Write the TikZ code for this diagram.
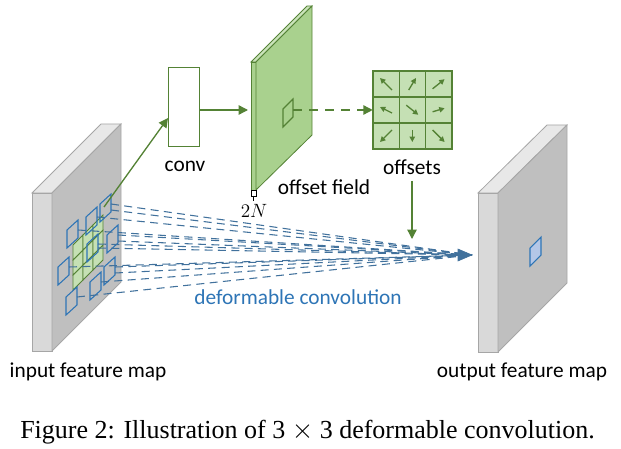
\documentclass[tikz,border=0pt]{standalone}
\usepackage{fontspec}
\setmainfont{Carlito}
\newfontfamily\capfont{Liberation Serif}
\usetikzlibrary{arrows.meta,calc}
\definecolor{gline}{HTML}{548235}
\definecolor{gfill}{HTML}{A9D18E}
\definecolor{gcell}{HTML}{C5E0B4}
\definecolor{bline}{HTML}{2E75B6}
\definecolor{bdash}{HTML}{41719C}
\definecolor{bfill}{HTML}{B4C7E7}
\definecolor{gfront}{HTML}{D9D9D9}
\definecolor{gmain}{HTML}{BFBFBF}
\definecolor{gtop}{HTML}{E8E8E8}
\definecolor{gedge}{HTML}{A6A6A6}
\tikzset{
  lbl/.style={font=\fontsize{16}{18}\selectfont, inner sep=0pt},
  face/.style={draw=gedge, line width=0.6pt},
  bsq/.style={draw=bline, line width=0.8pt},
  gar/.style={draw=gline, line width=1pt, -{Triangle[length=7pt,width=7pt]}},
  dl/.style={draw=bdash, line width=0.8pt, dash pattern=on 6pt off 4pt},
}
\begin{document}
\begin{tikzpicture}[x=0.75pt,y=-0.75pt]
\useasboundingbox (0,0) rectangle (621,449);
% input feature map
\fill[gtop,face] (32,193) -- (101,124) -- (121,124) -- (52,193) -- cycle;
\fill[gfront,face] (32,193) rectangle (52,351);
\fill[gmain,face] (52,193) -- (121,124) -- (121,282) -- (52,351) -- cycle;
% green grid
\foreach \i in {0,1,2}{\foreach \j in {0,1,2}{
  \filldraw[fill=gcell,draw=gline,line width=0.6pt]
   ($(73,290)+(\i*10,-\i*10)+(0,-\j*15)$) -- ++(10,-10) -- ++(0,-15) -- ++(-10,10) -- cycle;}}
% blue squares
\foreach \n/\x/\y in {a/100/222,b/86/235,c/67/248,d/107/253,e/87/262,f/58/285,g/104/285,h/90/300,k/66/315}{
  \draw[bsq] (\x,\y) -- ++(11,-10) -- ++(0,-18) -- ++(-11,10) -- cycle;
  \coordinate (s\n) at ($(\x,\y)+(11,-18)$);
}
\coordinate (tip) at (472,255);
\foreach \n in {a,b,c,d,e,f,g,h,k}{\draw[dl] (s\n) -- (tip);}
\foreach \n/\o in {a/6,d/6,g/6,e/4}{\draw[dl] ($(s\n)+(0,\o)$) -- (tip);}
\draw[bdash,fill=bdash] (tip) -- ++(-14,-6) -- ++(0,12) -- cycle;
\node[lbl, text=bline] (defc) at (298,297) {deformable convolution};
% conv
\node[draw=gline, line width=1pt, minimum width=23pt, minimum height=59pt, inner sep=0pt] (conv) at (184,107) {};
\node[lbl] (convl) at (185,166) {conv};
\coordinate (gsrc) at (104,207);
\draw[gar] (gsrc) -- (conv.west |- 0,118);
% offset field
\fill[gfill!60!white, draw=gline, line width=0.6pt] (251,62) -- (307,6) -- (312,6) -- (256,62) -- cycle;
\fill[gfill, draw=gline, line width=0.6pt] (251,62) rectangle (256,190);
\fill[gfill, draw=gline, line width=0.6pt] (256,62) -- (312,6) -- (312,135) -- (256,190) -- cycle;
\draw[draw=gline, line width=0.8pt] (283,127) -- ++(10,-10) -- ++(0,-18) -- ++(-10,10) -- cycle;
\coordinate (fsq) at (293,110);
\draw[gar] (conv.east |- 0,110) -- (248,110);
\draw[draw=black, fill=white, line width=0.5pt] (251,190) rectangle (256,196);
\draw[black, line width=1pt] (253.5,196) -- (253.5,201);
\node[font=\fontsize{15}{17}\selectfont, inner sep=0pt] (twoN) at (254,211) {$2N$};
\node[lbl] (ofl) at (324,187) {offset field};
% offsets grid
\foreach \i in {0,1,2}{\foreach \j in {0,1,2}{
  \filldraw[fill=gcell,draw=gline,line width=1pt] (373+\i*26.3,71+\j*26) rectangle ++(26.3,26);}}
\node[inner sep=0pt, minimum width=79pt*0.75, minimum height=78pt*0.75] (offs) at (412.5,110) {};
\foreach \c/\r/\dx/\dy in {0/0/-1/-1, 1/0/0.6/-1, 2/0/1/-0.8, 0/1/-1/-0.5, 1/1/1/0.8, 2/1/1/-0.3, 0/2/-1/1, 1/2/0/1, 2/2/1/1}{
  \draw[gline, line width=1pt, -{Triangle[length=4pt,width=4pt]}]
    ($(386+\c*26.3,84+\r*26)-(\dx*6,\dy*6)$) -- ($(386+\c*26.3,84+\r*26)+(\dx*6,\dy*6)$);}
\draw[gar, dash pattern=on 7pt off 5pt] (fsq) -- (offs.west);
\node[lbl] (offl) at (412,167) {offsets};
\draw[gar] (412,181) -- (412,239);
% output feature map
\fill[gtop,face] (478,193) -- (547,125) -- (567,125) -- (498,193) -- cycle;
\fill[gfront,face] (478,193) rectangle (498,352);
\fill[gmain,face] (498,193) -- (567,125) -- (567,283) -- (498,352) -- cycle;
\filldraw[fill=bfill, draw=bline, line width=0.8pt] (530,266) -- ++(11,-11) -- ++(0,-18) -- ++(-11,11) -- cycle;
% labels
\node[lbl] (inl) at (88,372) {input feature map};
\node[lbl] (outl) at (522,372) {output feature map};
\node[font=\capfont\fontsize{19.5}{22}\selectfont, inner sep=0pt, anchor=west] (cap) at (20,432) {Figure 2: Illustration of 3 $\times$ 3 deformable convolution.};
\end{tikzpicture}
\end{document}
